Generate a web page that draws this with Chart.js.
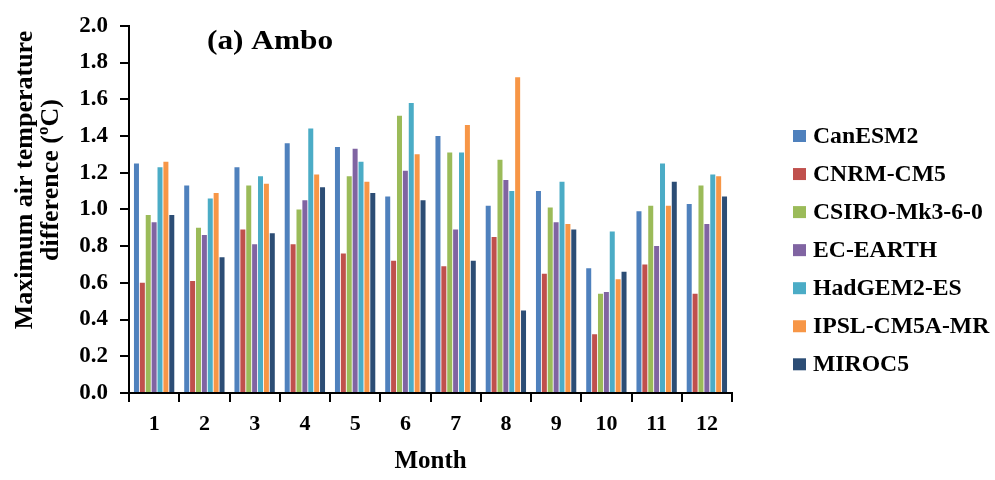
<!DOCTYPE html>
<html>
<head>
    <meta charset="UTF-8">
    <title>Maximum air temperature difference - Ambo</title>
    <script src="https://cdn.jsdelivr.net/npm/chart.js"></script>
    <style>
        body {
            margin: 0;
            background: #ffffff;
        }
        .wrap {
            width: 995px;
            height: 480px;
            position: relative;
        }
    </style>
</head>
<body>
<div class="wrap">
    <canvas id="tmaxChart"></canvas>
</div>

<script>
    // values
    const months = ['1', '2', '3', '4', '5', '6', '7', '8', '9', '10', '11', '12'];
    const canesm2 = [1.25, 1.13, 1.23, 1.36, 1.34, 1.07, 1.40, 1.02, 1.10, 0.68, 0.99, 1.03];
    const cnrmCm5 = [0.60, 0.61, 0.89, 0.81, 0.76, 0.72, 0.69, 0.85, 0.65, 0.32, 0.70, 0.54];
    const csiroMk3 = [0.97, 0.90, 1.13, 1.00, 1.18, 1.51, 1.31, 1.27, 1.01, 0.54, 1.02, 1.13];
    const ecEarth = [0.93, 0.86, 0.81, 1.05, 1.33, 1.21, 0.89, 1.16, 0.93, 0.55, 0.80, 0.92];
    const hadgem2 = [1.23, 1.06, 1.18, 1.44, 1.26, 1.58, 1.31, 1.10, 1.15, 0.88, 1.25, 1.19];
    const ipslCm5a = [1.26, 1.09, 1.14, 1.19, 1.15, 1.30, 1.46, 1.72, 0.92, 0.62, 1.02, 1.18];
    const miroc5 = [0.97, 0.74, 0.87, 1.12, 1.09, 1.05, 0.72, 0.45, 0.89, 0.66, 1.15, 1.07];

    const modelNames = ['CanESM2', 'CNRM-CM5', 'CSIRO-Mk3-6-0', 'EC-EARTH', 'HadGEM2-ES', 'IPSL-CM5A-MR', 'MIROC5'];
    const modelColors = ['#4f81bd', '#c0504d', '#9bbb59', '#8064a2', '#4bacc6', '#f79646', '#2c4d75'];
    const series = [canesm2, cnrmCm5, csiroMk3, ecEarth, hadgem2, ipslCm5a, miroc5];

    const panelTitle = '(a) Ambo';
    const yTitle = ['Maximum air temperature', 'difference (\u00baC)'];
    const xTitle = 'Month';

    const serif = "'Liberation Serif', 'Times New Roman', serif";

    // panel label inside the plot (original text is a bit wide, so stretch it)
    const panelLabel = {
        id: 'panelLabel',
        afterDraw(chart) {
            const ctx = chart.ctx;
            ctx.save();
            ctx.font = 'bold 27px ' + serif;
            ctx.fillStyle = '#000';
            ctx.textAlign = 'left';
            ctx.textBaseline = 'alphabetic';
            ctx.translate(chart.chartArea.left + 78, 49);
            ctx.scale(1.16, 1);
            ctx.fillText(panelTitle, 0, 0);
            ctx.restore();
        }
    };

    // two line y title, sits a bit above the middle like the original
    const yAxisTitle = {
        id: 'yAxisTitle',
        afterDraw(chart) {
            const ctx = chart.ctx;
            ctx.save();
            ctx.font = 'bold 26px ' + serif;
            ctx.fillStyle = '#000';
            ctx.textAlign = 'center';
            ctx.textBaseline = 'alphabetic';
            ctx.translate(32, 180);
            ctx.rotate(-Math.PI / 2);
            ctx.fillText(yTitle[0], 0, 0);
            ctx.fillText(yTitle[1], 0, 26);
            ctx.restore();
        }
    };

    // legend on the right, spaced like the original
    const sideLegend = {
        id: 'sideLegend',
        afterDraw(chart) {
            const ctx = chart.ctx;
            ctx.save();
            ctx.font = 'bold 23px ' + serif;
            ctx.textAlign = 'left';
            ctx.textBaseline = 'middle';
            chart.data.datasets.forEach((ds, i) => {
                const y = 136 + i * 38.05;
                ctx.fillStyle = ds.backgroundColor;
                ctx.fillRect(793, y - 6, 13, 12);
                ctx.fillStyle = '#000';
                ctx.save();
                ctx.translate(813, y + 1);
                ctx.scale(1.03, 1);
                ctx.fillText(ds.label, 0, 0);
                ctx.restore();
            });
            ctx.restore();
        }
    };

    const ctx = document.getElementById('tmaxChart').getContext('2d');
    const tmaxChart = new Chart(ctx, {
        type: 'bar',
        data: {
            labels: months,
            datasets: series.map((vals, i) => ({
                label: modelNames[i],
                data: vals,
                backgroundColor: modelColors[i],
                borderWidth: 0,
                barPercentage: 0.85,
                categoryPercentage: 0.82
            }))
        },
        options: {
            responsive: true,
            maintainAspectRatio: false,
            animation: false,
            layout: {
                padding: {left: 0, right: 263, top: 19, bottom: 0}
            },
            plugins: {
                legend: {display: false},
                tooltip: {enabled: false}
            },
            scales: {
                x: {
                    grid: {
                        display: true,
                        offset: true,
                        drawOnChartArea: false,
                        drawTicks: true,
                        tickLength: 9,
                        color: '#000',
                        lineWidth: 2
                    },
                    border: {display: true, color: '#000', width: 2},
                    ticks: {
                        color: '#000',
                        padding: 9,
                        font: {family: serif, size: 22, weight: 'bold'}
                    },
                    title: {
                        display: true,
                        text: xTitle,
                        color: '#000',
                        padding: {top: 0, bottom: 3},
                        font: {family: serif, size: 25, weight: 'bold'}
                    },
                    afterFit(scale) {
                        scale.height = 87;
                    }
                },
                y: {
                    min: 0,
                    max: 2,
                    grid: {
                        display: true,
                        drawOnChartArea: false,
                        drawTicks: true,
                        tickLength: 9,
                        color: '#000',
                        lineWidth: 2
                    },
                    border: {display: true, color: '#000', width: 2},
                    ticks: {
                        stepSize: 0.2,
                        color: '#000',
                        padding: 12,
                        font: {family: serif, size: 23, weight: 'bold'},
                        callback: v => v.toFixed(1)
                    },
                    afterFit(scale) {
                        scale.width = 129;
                    }
                }
            }
        },
        plugins: [panelLabel, yAxisTitle, sideLegend]
    });
</script>
</body>
</html>
